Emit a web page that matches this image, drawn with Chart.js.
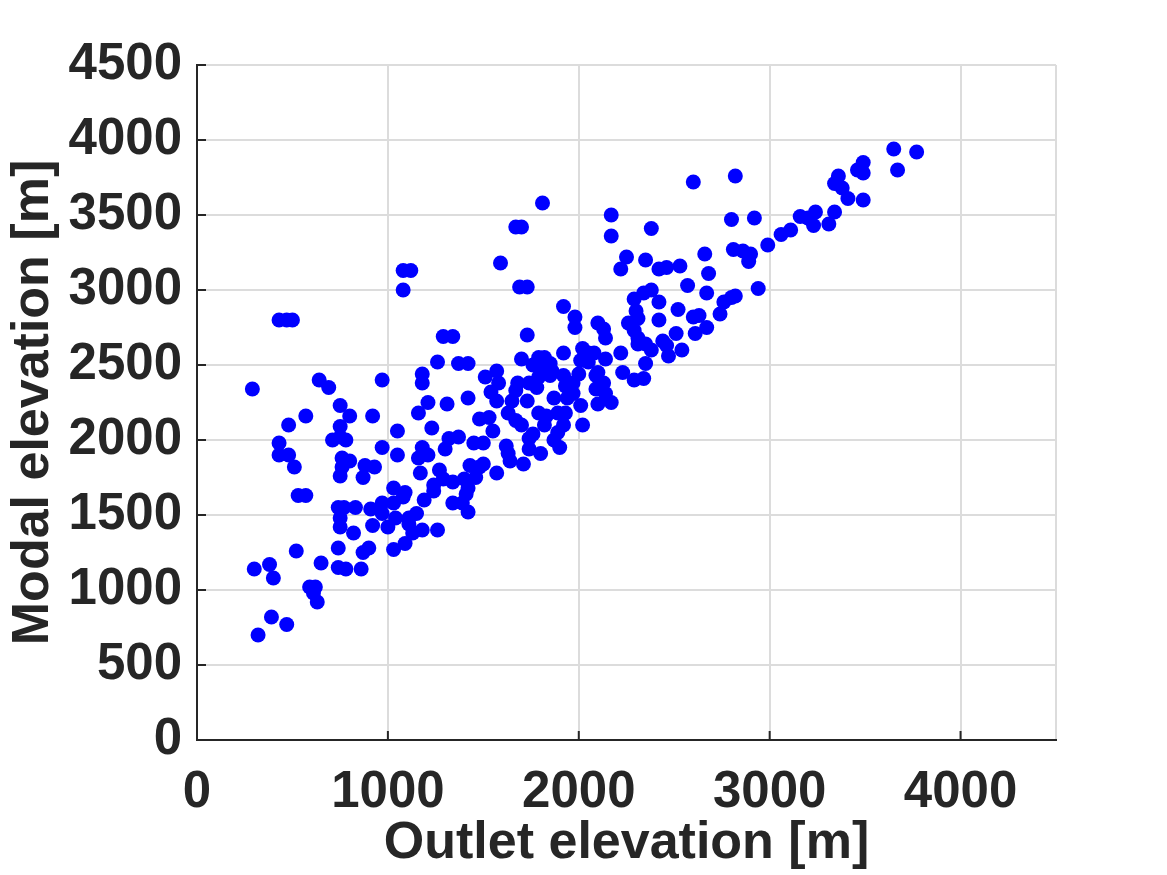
<!DOCTYPE html>
<html>
<head>
<meta charset="utf-8">
<script src="https://cdn.jsdelivr.net/npm/chart.js@4.4.1/dist/chart.umd.min.js"></script>
<style>
html,body{margin:0;padding:0;background:#ffffff;}
#wrap{width:1167px;height:875px;}
</style>
</head>
<body>
<div id="wrap"><canvas id="c" width="1167" height="875"></canvas></div>
<script>
// Outlet elevation [m] (x) and modal elevation [m] (y) for each catchment
const outletElevation = [
  1080,1120,1080,1590,1670,1700,1810,1690,1730,2170,
  2170,2380,2600,2250,2220,2350,2420,2460,2530,2570,
  2660,2680,2670,2340,2380,2290,
  2420,1920,2520,1980,1980,2100,2130,2140,1730,2260,
  2300,2310,2290,2310,2420,2600,2630,2510,2610,2670,
  2440,2740,2760,2800,2820,
  2310,2350,2380,2460,2470,2540,1420,1700,1790,1820,
  1760,1800,1850,1860,1920,2020,2050,2010,2050,2080,
  2140,2220,2230,2350,2290,2340,1510,1570,1580,1540,
  1570,1420,1680,1670,1650,1740,1780,1730,1810,1790,
  1850,1920,1930,1970,1970,1940,2000,2090,2100,2090,
  2130,2140,2100,2170,1870,2010,2020,1790,1830,1820,
  1890,1930,1630,1670,1700,1480,1530,1550,1500,1450,
  1920,1890,1870,1900,1740,1760,1740,1800,1620,1630,
  1640,1710,1570,1430,1480,1500,1460,
  430,470,500,1290,1340,290,640,690,970,1180,
  1180,1260,1370,1210,1160,1310,750,800,570,480,
  920,750,750,710,780,430,430,480,510,1230,
  1050,970,1050,760,800,760,880,930,1180,1160,
  1210,1320,1370,1300,1170,1270,750,870,
  530,570,1030,1090,1080,1240,1240,1290,1340,1400,
  1420,1410,1340,1390,1420,1190,740,770,830,750,
  750,910,970,1030,920,970,1000,1040,1110,1150,
  1110,820,1130,1180,1260,1090,1030,740,870,900,
  520,650,740,780,860,300,380,400,590,620,
  610,630,390,470,320,
  2820,3650,3770,3670,3490,3490,3460,3360,3340,3380,
  3410,3490,2800,2920,3160,3240,3230,3310,3340,3200,
  2990,3060,3110,2810,2860,2900,2890,2940
];
const modalElevation = [
  3130,3130,3000,3180,3420,3420,3580,3020,3020,3500,
  3360,3410,3720,3220,3140,3200,3140,3150,3160,3030,
  3240,3110,2980,2980,3000,2940,
  2920,2890,2870,2820,2750,2780,2740,2680,2700,2780,
  2860,2810,2730,2680,2800,2820,2830,2710,2710,2750,
  2660,2840,2920,2950,2960,
  2640,2640,2600,2630,2560,2600,2510,2540,2550,2550,
  2500,2480,2510,2460,2580,2610,2580,2530,2520,2580,
  2540,2580,2450,2510,2400,2410,2420,2460,2380,2320,
  2260,2280,2380,2330,2260,2380,2350,2260,2460,2420,
  2430,2430,2360,2380,2310,2280,2440,2430,2450,2340,
  2380,2310,2240,2250,2280,2230,2100,2180,2160,2100,
  2180,2180,2180,2130,2100,2140,2150,2060,1980,1980,
  2100,2050,2000,1950,2010,2040,1940,1910,1960,1910,
  1860,1840,1780,1830,1820,1840,1750,
  2800,2800,2800,2690,2690,2340,2400,2350,2400,2440,
  2380,2520,2510,2250,2180,2240,2230,2160,2160,2100,
  2160,2090,2020,2000,2000,1980,1900,1900,1820,2080,
  2060,1950,1900,1880,1860,1820,1830,1820,1950,1880,
  1900,2010,2020,1940,1780,1800,1760,1750,
  1630,1630,1680,1650,1620,1700,1660,1740,1720,1740,
  1680,1640,1580,1580,1520,1600,1550,1550,1550,1480,
  1420,1540,1580,1580,1430,1510,1420,1480,1480,1510,
  1440,1380,1380,1400,1400,1310,1270,1280,1250,1280,
  1260,1180,1150,1140,1140,1140,1170,1080,1020,1020,
  980,920,820,770,700,
  3760,3940,3920,3800,3850,3780,3800,3760,3710,3680,
  3610,3600,3470,3480,3490,3520,3430,3440,3520,3480,
  3300,3370,3400,3270,3260,3240,3190,3010
];
const xTicks = [0, 1000, 2000, 3000, 4000];
const yTicks = [0, 500, 1000, 1500, 2000, 2500, 3000, 3500, 4000, 4500];
const xMax = 4500;
const yMax = 4500;
const xTitle = 'Outlet elevation [m]';
const yTitle = 'Modal elevation [m]';

const points = outletElevation.map((v, i) => ({x: v, y: modalElevation[i]}));

const FONT = '"Liberation Sans", Arial, Helvetica, sans-serif';
const TEXT = '#262626';

const innerTicks = {
  id: 'innerTicks',
  afterDraw(chart) {
    const {ctx, chartArea, scales} = chart;
    const L = 9;
    ctx.save();
    ctx.strokeStyle = TEXT;
    ctx.lineWidth = 2;
    xTicks.forEach(v => {
      const p = scales.x.getPixelForValue(v);
      ctx.beginPath();
      ctx.moveTo(p, chartArea.bottom);
      ctx.lineTo(p, chartArea.bottom - L);
      ctx.stroke();
    });
    yTicks.forEach(v => {
      const p = scales.y.getPixelForValue(v);
      ctx.beginPath();
      ctx.moveTo(chartArea.left, p);
      ctx.lineTo(chartArea.left + L, p);
      ctx.stroke();
    });
    ctx.restore();
  }
};

new Chart(document.getElementById('c'), {
  type: 'scatter',
  data: {
    datasets: [{
      data: points,
      backgroundColor: '#0000ff',
      borderWidth: 0,
      pointRadius: 7.5,
      pointHoverRadius: 7.5
    }]
  },
  options: {
    responsive: false,
    animation: false,
    devicePixelRatio: 1,
    layout: {padding: {left: 0, top: 65, right: 111, bottom: 0}},
    plugins: {legend: {display: false}, tooltip: {enabled: false}},
    scales: {
      x: {
        type: 'linear',
        min: 0, max: xMax,
        afterBuildTicks: s => { s.ticks = xTicks.concat([xMax]).map(v => ({value: v})); },
        afterFit: s => { s.height = 135; },
        ticks: {
          autoSkip: false,
          maxRotation: 0,
          minRotation: 0,
          padding: 22,
          color: TEXT,
          font: {family: FONT, size: 51, weight: 'bold'},
          callback: v => xTicks.includes(v) ? String(v) : ''
        },
        grid: {color: '#dcdcdc', lineWidth: 2, drawTicks: false},
        border: {color: TEXT, width: 2},
        title: {display: true, text: xTitle, color: TEXT, padding: 0,
                font: {family: FONT, size: 52, weight: 'bold'}}
      },
      y: {
        type: 'linear',
        min: 0, max: yMax,
        afterBuildTicks: s => { s.ticks = yTicks.map(v => ({value: v})); },
        afterFit: s => { s.width = 197; },
        ticks: {
          autoSkip: false,
          padding: 15,
          color: TEXT,
          font: {family: FONT, size: 51, weight: 'bold'},
          callback: v => yTicks.includes(v) ? String(v) : ''
        },
        grid: {color: '#dcdcdc', lineWidth: 2, drawTicks: false},
        border: {color: TEXT, width: 2},
        title: {display: true, text: yTitle, color: TEXT, padding: 2,
                font: {family: FONT, size: 52, weight: 'bold'}}
      }
    }
  },
  plugins: [innerTicks]
});
</script>
</body>
</html>
